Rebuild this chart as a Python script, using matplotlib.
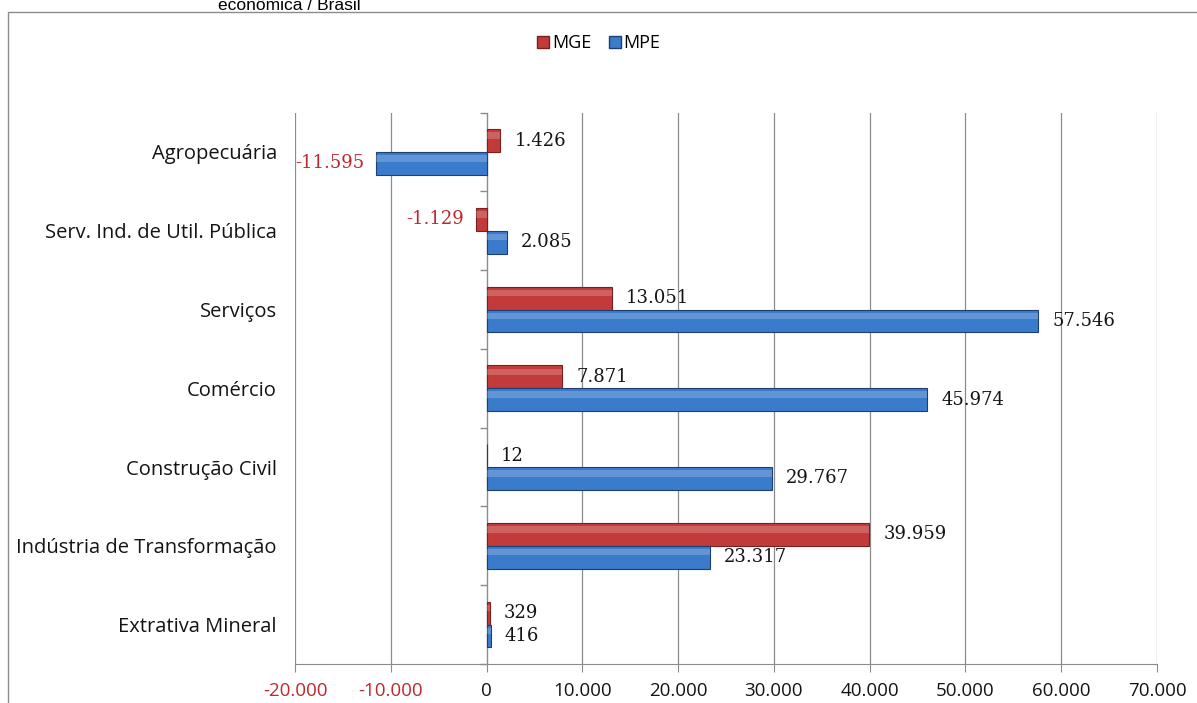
import numpy as np
import matplotlib
matplotlib.use("Agg")
import matplotlib.pyplot as plt
from matplotlib.patches import Rectangle
from matplotlib.lines import Line2D

categories = ["Agropecuária", "Serv. Ind. de Util. Pública", "Serviços", "Comércio",
              "Construção Civil", "Indústria de Transformação", "Extrativa Mineral"]
mge = [1426, -1129, 13051, 7871, 12, 39959, 329]
mpe = [-11595, 2085, 57546, 45974, 29767, 23317, 416]
xticks = [-20000, -10000, 0, 10000, 20000, 30000, 40000, 50000, 60000, 70000]

RED = "#C23B3A"
BLUE = "#3B7BCB"
NEG = "#C0272D"
TXT = "#141414"
FONT = "Open Sans"
LABFONT = "DejaVu Serif"
GRID = "#8c8c8c"


def fmt(v):
    return f"{v:,}".replace(",", ".")


fig = plt.figure(figsize=(11.97, 7.03), dpi=100)
fig.patch.set_facecolor("white")

# chart frame and (truncated) title above it
fig.patches.append(Rectangle((8 / 1197, -0.01), 1.0, 1 - 12 / 703 + 0.01,
                             transform=fig.transFigure, fill=False,
                             edgecolor=GRID, linewidth=1.0))
fig.text(218 / 1197, 1 - 10 / 703, "econômica / Brasil", family="Liberation Sans",
         fontsize=12.5, va="baseline", ha="left")

ax = fig.add_axes([295 / 1197, 1 - 664 / 703, 862 / 1197, 551.4 / 703])
n = len(categories)
y = np.arange(n)
h = 0.29

for vals, off, col, dark in [(mge, -h / 2, RED, "#7a1f1f"), (mpe, h / 2, BLUE, "#1f3f70")]:
    ax.barh(y + off, vals, height=h, color=col, edgecolor=dark, linewidth=0.8, zorder=3)
    # glossy highlight on top part of each bar
    ax.barh(y + off - h * 0.22, vals, height=h * 0.28, color="white", alpha=0.2,
            linewidth=0, zorder=4)
    for yi, v in zip(y, vals):
        if v >= 0:
            ax.text(v + 1500, yi + off, fmt(v), va="center", ha="left", fontsize=13,
                    family=LABFONT, color=TXT, zorder=5)
        else:
            ax.text(v - 1200, yi + off, fmt(v), va="center", ha="right", fontsize=13,
                    family=LABFONT, color=NEG, zorder=5)

ax.set_xlim(-20000, 70000)
ax.set_ylim(n - 0.5, -0.5)
ax.set_xticks(xticks)
ax.set_xticklabels([fmt(t) for t in xticks], fontsize=13.5, family=FONT)
for lab, t in zip(ax.get_xticklabels(), xticks):
    lab.set_color(NEG if t < 0 else TXT)
ax.tick_params(axis="x", length=6, color=GRID, pad=7)
ax.set_yticks(y)
ax.set_yticklabels(categories, fontsize=14.5, family=FONT, color=TXT)
ax.tick_params(axis="y", length=0, pad=13)

for t in xticks:
    if t != 0:
        ax.axvline(t, color=GRID, linewidth=0.9, zorder=1)
ax.axvline(0, color=GRID, linewidth=1.0, zorder=2)
ax.hlines(np.arange(n + 1) - 0.5, -650, 0, color=GRID, linewidth=1.0, zorder=2,
          clip_on=False)

for s in ["left", "right", "top"]:
    ax.spines[s].set_visible(False)
ax.spines["bottom"].set_color(GRID)

# legend
handles = [Line2D([], [], marker="s", linestyle="none", markersize=8, color=RED,
                  markeredgecolor="#7a1f1f"),
           Line2D([], [], marker="s", linestyle="none", markersize=8, color=BLUE,
                  markeredgecolor="#1f3f70")]
fig.legend(handles, ["MGE", "MPE"], loc="center", bbox_to_anchor=(598 / 1197, 1 - 43 / 703),
           ncol=2, frameon=False, prop={"family": FONT, "size": 13},
           handletextpad=0.1, columnspacing=0.9, handlelength=0.8)

fig.savefig("out.png", dpi=100)
